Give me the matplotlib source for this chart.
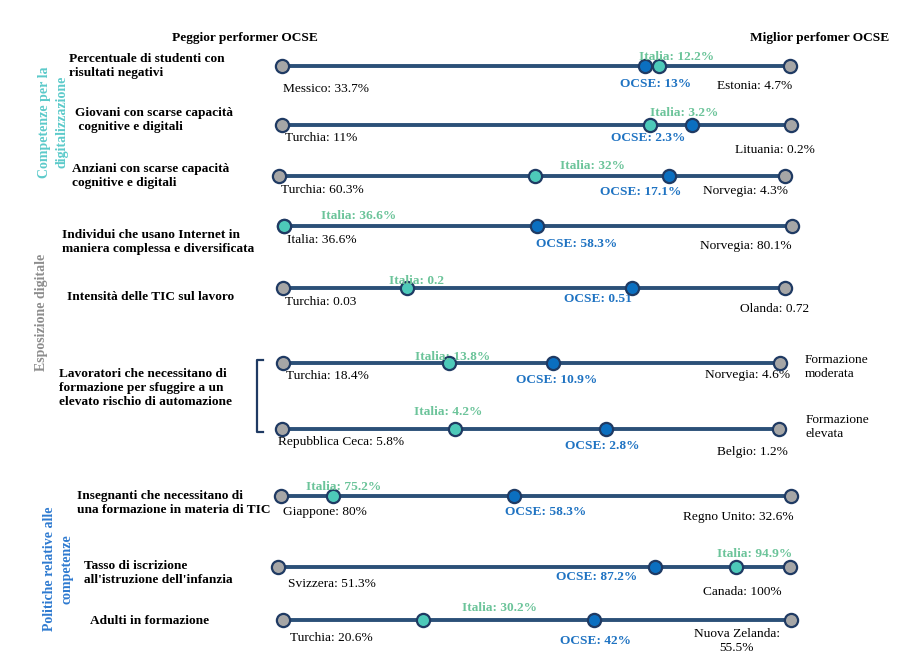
import matplotlib
matplotlib.use("Agg")
import matplotlib.pyplot as plt

# valori per riga (riga 6 e 7: formazione moderata / elevata)
titoli = [
    "Percentuale di studenti con\nrisultati negativi",
    "Giovani con scarse capacità\n cognitive e digitali",
    "Anziani con scarse capacità\ncognitive e digitali",
    "Individui che usano Internet in\nmaniera complessa e diversificata",
    "Intensità delle TIC sul lavoro",
    "Lavoratori che necessitano di\nformazione per sfuggire a un\nelevato rischio di automazione",
    "",
    "Insegnanti che necessitano di\nuna formazione in materia di TIC",
    "Tasso di iscrizione\nall'istruzione dell'infanzia",
    "Adulti in formazione",
]
peggior_paese = ["Messico", "Turchia", "Turchia", "Italia", "Turchia", "Turchia",
                 "Repubblica Ceca", "Giappone", "Svizzera", "Turchia"]
peggior_val = [33.7, 11, 60.3, 36.6, 0.03, 18.4, 5.8, 80, 51.3, 20.6]
miglior_paese = ["Estonia", "Lituania", "Norvegia", "Norvegia", "Olanda", "Norvegia",
                 "Belgio", "Regno Unito", "Canada", "Nuova Zelanda"]
miglior_val = [4.7, 0.2, 4.3, 80.1, 0.72, 4.6, 1.2, 32.6, 100, 55.5]
italia_val = [12.2, 3.2, 32, 36.6, 0.2, 13.8, 4.2, 75.2, 94.9, 30.2]
ocse_val = [13, 2.3, 17.1, 58.3, 0.51, 10.9, 2.8, 58.3, 87.2, 42]
unita = ["%", "%", "%", "%", "", "%", "%", "%", "%", "%"]

# layout (pixel)
riga_y = [66, 125, 176, 226, 288, 363, 429, 496, 567, 620]
x_start = [282, 282, 279, 284, 283, 283, 282, 281, 278, 283]
x_end = [790, 791, 785, 792, 785, 780, 779, 791, 790, 791]
titolo_x = [69, 75, 72, 62, 67, 59, 0, 77, 84, 90]
titolo_y = [66, 120, 176, 242, 297, 388, 0, 503, 573, 621]
off_peggior = [(44, 23), (39, 13), (43, 14), (38, 14), (38, 14), (44, 13), (59, 13), (44, 16), (54, 17), (48, 18)]
off_miglior = [(-35, 20), (-16, 25), (-39, 15), (-46, 20), (-10, 21), (-32, 12), (-27, 23), (-53, 21), (-48, 25), (-54, 21)]
off_ocse = [(11, 18), (-44, 13), (-29, 16), (39, 18), (-34, 11), (4, 17), (-4, 17), (31, 16), (-59, 10), (1, 21)]
off_italia = [(18, -9), (35, -12), (58, -10), (75, -10), (10, -7), (4, -6), (-7, -17), (11, -9), (18, -13), (77, -12)]
sep_miglior = [" "] * 9 + ["\n"]

C_LINEA = "#2B5078"
C_BORDO = "#1F3A63"
C_GRIGIO = "#A6A6A6"
C_OCSE = "#0B6FC0"
C_ITALIA = "#4DC9B9"
C_ITALIA_TXT = "#6CC49A"
C_OCSE_TXT = "#1F73C2"

plt.rcParams['font.family'] = ['Liberation Serif', 'DejaVu Serif']
FS = 9.6
LS = 1.25

fig = plt.figure(figsize=(9.04, 6.66), dpi=100)
ax = fig.add_axes([0, 0, 1, 1])
ax.set_xlim(0, 904)
ax.set_ylim(666, 0)
ax.axis("off")

dot = dict(marker="o", markersize=9.5, markeredgewidth=1.6, markeredgecolor=C_BORDO, linestyle="none", zorder=4)

for i in range(len(peggior_val)):
    y = riga_y[i]
    x0, x1 = x_start[i], x_end[i]
    span = peggior_val[i] - miglior_val[i]
    xi = x0 + (peggior_val[i] - italia_val[i]) / span * (x1 - x0)
    xo = x0 + (peggior_val[i] - ocse_val[i]) / span * (x1 - x0)
    u = unita[i]

    ax.plot([x0, x1], [y, y], color=C_LINEA, lw=2.8, solid_capstyle="butt", zorder=2)
    ax.plot([x0, x1], [y, y], markerfacecolor=C_GRIGIO, **dot)
    ax.plot([xo], [y], markerfacecolor=C_OCSE, **dot)
    ax.plot([xi], [y], markerfacecolor=C_ITALIA, **dot)

    ax.text(x0 + off_peggior[i][0], y + off_peggior[i][1],
            f"{peggior_paese[i]}: {peggior_val[i]:g}{u}",
            ha="center", va="center", fontsize=FS, color="black")
    ax.text(x1 + off_miglior[i][0], y + off_miglior[i][1],
            f"{miglior_paese[i]}:{sep_miglior[i]}{miglior_val[i]:g}{u}",
            ha="center", va="center", fontsize=FS, color="black", linespacing=LS)
    ax.text(xo + off_ocse[i][0], y + off_ocse[i][1], f"OCSE: {ocse_val[i]:g}{u}",
            ha="center", va="center", fontsize=FS, color=C_OCSE_TXT, fontweight="bold")
    ax.text(xi + off_italia[i][0], y + off_italia[i][1], f"Italia: {italia_val[i]:g}{u}",
            ha="center", va="center", fontsize=FS, color=C_ITALIA_TXT, fontweight="bold", zorder=5)

    if titoli[i]:
        ax.text(titolo_x[i], titolo_y[i], titoli[i], ha="left", va="center",
                fontsize=FS, fontweight="bold", color="black", linespacing=LS)

# intestazioni
ax.text(245, 38, "Peggior performer OCSE", ha="center", va="center", fontsize=FS, fontweight="bold")
ax.text(820, 38, "Miglior perfomer OCSE", ha="center", va="center", fontsize=FS, fontweight="bold")

# gruppi
ax.text(53, 122, "Competenze per la\ndigitalizzazione", rotation=90, ha="center", va="center",
        fontsize=FS + 0.4, fontweight="bold", color="#5CCACA", linespacing=1.45)
ax.text(42, 312, "Esposizione digitale", rotation=90, ha="center", va="center",
        fontsize=FS + 0.4, fontweight="bold", color="#8D8D8D")
ax.text(58, 569, "Politiche relative alle\ncompetenze", rotation=90, ha="center", va="center",
        fontsize=FS + 0.4, fontweight="bold", color="#2E7AD0", linespacing=1.45)

# parentesi e sottocategorie
ax.plot([263, 257, 257, 263], [360, 360, 432, 432], color=C_BORDO, lw=1.6)
ax.text(805, 367, "Formazione\nmoderata", ha="left", va="center", fontsize=FS, linespacing=LS)
ax.text(806, 427, "Formazione\nelevata", ha="left", va="center", fontsize=FS, linespacing=LS)

fig.savefig("out.png", dpi=100)
